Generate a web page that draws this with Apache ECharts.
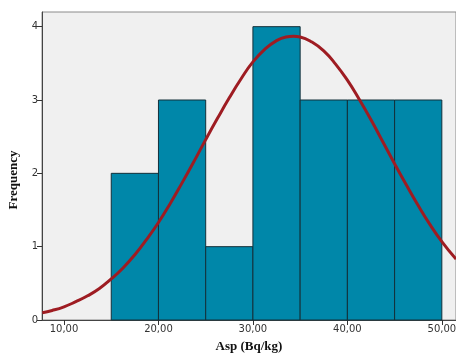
<!DOCTYPE html>
<html>
<head>
<meta charset="utf-8">
<script src="https://cdn.jsdelivr.net/npm/echarts@6/dist/echarts.min.js"></script>
<style>
  html, body { margin: 0; padding: 0; background: #ffffff; }
  #chart { width: 456px; height: 354px; }
</style>
</head>
<body>
<div id="chart"></div>
<script>
// histogram bins (Asp, Bq/kg) and frequencies
const binStart = [15, 20, 25, 30, 35, 40, 45];
const binEnd = [20, 25, 30, 35, 40, 45, 50];
const counts = [2, 3, 1, 4, 3, 3, 3];

// normal curve
const curveX = [7.7, 8.75, 10, 11.25, 12.5, 13.75, 15, 16.25, 17.5, 18.75, 20, 21.25, 22.5, 23.75, 25, 26.25, 27.5, 28.75, 30, 31.25, 32.5, 33.5, 34.3, 35, 36.25, 37.5, 38.75, 40, 41.25, 42.5, 43.75, 45, 46.25, 47.5, 48.75, 50, 51.5];
const curveY = [0.10, 0.13, 0.18, 0.25, 0.33, 0.43, 0.56, 0.71, 0.89, 1.10, 1.33, 1.59, 1.87, 2.16, 2.46, 2.75, 3.03, 3.29, 3.52, 3.69, 3.81, 3.86, 3.87, 3.86, 3.79, 3.67, 3.49, 3.27, 3.01, 2.73, 2.43, 2.13, 1.84, 1.56, 1.30, 1.07, 0.83];

const xTicks = [10, 20, 30, 40, 50];
const yTicks = [0, 1, 2, 3, 4];

const BAR_COLOR = "#0087a9";
const CURVE_COLOR = "#9e1c22";

const chart = echarts.init(document.getElementById("chart"));

const barData = binStart.map((s, i) => [s, binEnd[i], counts[i]]);
const curveData = curveX.map((x, i) => [x, curveY[i]]);

const option = {
  animation: false,
  grid: {
    left: 42, right: 0, top: 12, bottom: 34,
    outerBoundsMode: "none",
    containLabel: false,
    show: true,
    backgroundColor: "#f0f0f0",
    borderColor: "#8a8a8a",
    borderWidth: 1,
  },
  xAxis: {
    type: "value",
    min: 7.67,
    max: 51.5,
    name: "Asp (Bq/kg)",
    nameLocation: "middle",
    nameGap: 20,
    nameTextStyle: { fontFamily: "Liberation Serif", fontWeight: "bold", fontSize: 13, color: "#111" },
    splitLine: { show: false },
    axisLine: { show: true, lineStyle: { color: "#444", width: 1 } },
    axisTick: { show: true, length: 5, customValues: xTicks, lineStyle: { color: "#333" } },
    axisLabel: {
      customValues: xTicks,
      fontFamily: "DejaVu Sans",
      fontSize: 10,
      color: "#333",
      margin: 4,
      formatter: (v) => v.toFixed(2).replace(".", ","),
    },
  },
  yAxis: {
    type: "value",
    min: 0,
    max: 4.2,
    name: "Frequency",
    nameLocation: "middle",
    nameGap: 22,
    nameTextStyle: {
      fontFamily: "Liberation Serif", fontWeight: "bold", fontSize: 13, color: "#111",
      padding: [0, 28, 0, 0],
    },
    splitLine: { show: false },
    axisLine: { show: true, lineStyle: { color: "#444", width: 1 } },
    axisTick: { show: true, length: 5, customValues: yTicks, lineStyle: { color: "#333" } },
    axisLabel: {
      customValues: yTicks,
      fontFamily: "DejaVu Sans",
      fontSize: 10,
      color: "#333",
      margin: 4,
    },
  },
  series: [
    {
      type: "custom",
      data: barData,
      encode: { x: [0, 1], y: 2 },
      renderItem: (params, api) => {
        const p0 = api.coord([api.value(0), api.value(2)]);
        const p1 = api.coord([api.value(1), 0]);
        return {
          type: "rect",
          shape: { x: p0[0], y: p0[1], width: p1[0] - p0[0], height: p1[1] - p0[1] },
          style: { fill: BAR_COLOR, stroke: "#13303a", lineWidth: 1 },
        };
      },
      z: 2,
    },
    {
      type: "line",
      data: curveData,
      smooth: true,
      showSymbol: false,
      lineStyle: { color: CURVE_COLOR, width: 3 },
      z: 5,
    },
  ],
};

chart.setOption(option);
</script>
</body>
</html>
